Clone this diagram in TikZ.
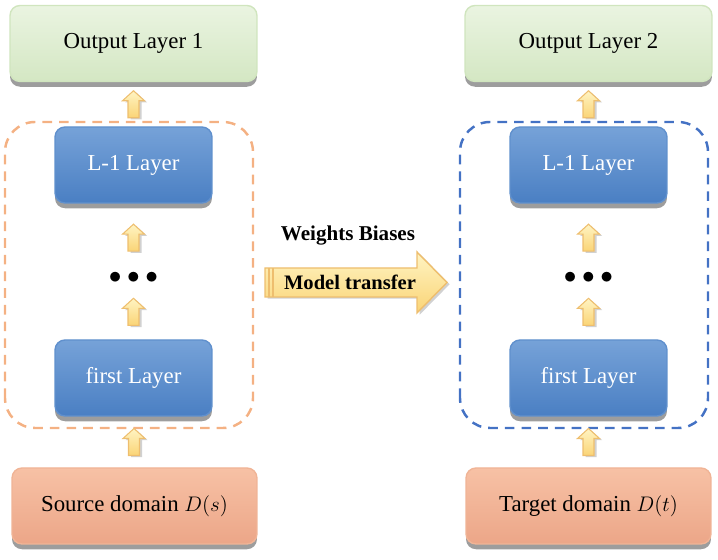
\documentclass[tikz,border=0pt]{standalone}
\usepackage{fontspec}
\setmainfont{Liberation Serif}
\usepackage{amsmath}
\usetikzlibrary{positioning, calc, shadows, arrows.meta}
\definecolor{GreenTop}{RGB}{234,244,225}
\definecolor{GreenBottom}{RGB}{212,231,195}
\definecolor{GreenEdge}{RGB}{208,229,190}
\definecolor{BlueTop}{RGB}{118,162,216}
\definecolor{BlueBottom}{RGB}{74,127,195}
\definecolor{BlueEdge}{RGB}{96,144,205}
\definecolor{OrangeTop}{RGB}{247,193,165}
\definecolor{OrangeBottom}{RGB}{236,166,136}
\definecolor{OrangeEdge}{RGB}{240,180,150}
\definecolor{DashOrange}{RGB}{244,177,131}
\definecolor{DashBlue}{RGB}{68,114,196}
\definecolor{ArrowTop}{RGB}{255,244,195}
\definecolor{ArrowBottom}{RGB}{250,212,118}
\definecolor{ArrowEdge}{RGB}{238,190,110}

\tikzset{
    boxfont/.style={font=\fontsize{13}{15}\selectfont},
    boxshadow/.style={drop shadow={shadow xshift=0pt, shadow yshift=-3pt, opacity=0.55, fill=black!70}},
    outbox/.style={rounded corners=0.2cm, minimum width=4.94cm, minimum height=1.52cm, draw=GreenEdge, top color=GreenTop, bottom color=GreenBottom, boxfont, boxshadow},
    layerbox/.style={rounded corners=0.2cm, minimum width=3.14cm, minimum height=1.52cm, draw=BlueEdge, top color=BlueTop, bottom color=BlueBottom, text=white, boxfont, boxshadow},
    domainbox/.style={rounded corners=0.2cm, minimum width=4.9cm, minimum height=1.52cm, draw=OrangeEdge, top color=OrangeTop, bottom color=OrangeBottom, boxfont, boxshadow},
    groupbox/.style={dash pattern=on 5.5pt off 4pt, line width=1.4pt, rounded corners=0.6cm},
    dotsnode/.style={inner sep=0pt, font=\Large},
    arrowfill/.style={draw=ArrowEdge, line width=0.6pt, top color=ArrowTop, bottom color=ArrowBottom, drop shadow={shadow xshift=1.5pt, shadow yshift=-1pt, opacity=0.3, fill=black!60}},
    uparr/.pic={\draw[arrowfill] (0,13.5) -- (11,3.5) -- (5.5,3.5) -- (5.5,-13.5) -- (-5.5,-13.5) -- (-5.5,3.5) -- (-11,3.5) -- cycle;}
}

\begin{document}
\begin{tikzpicture}[>=Latex, thick, x=0.02cm, y=0.02cm]
    \useasboundingbox (0,0) rectangle (718,560);
    \def\lx{133.5} \def\rx{588.5}
    % Dashed groups
    \draw[groupbox, DashOrange] (5,132) rectangle (253,438);
    \draw[groupbox, DashBlue] (460,132) rectangle (708,438);
    % Source side
    \node[outbox] (outA) at (\lx, 516.5) {Output Layer 1};
    \node[layerbox] (lastA) at (\lx, 395) {L-1 Layer};
    \node[dotsnode] (dotsA) at (\lx, 282) {${\bullet}\mkern4mu{\bullet}\mkern4mu{\bullet}$};
    \node[layerbox] (firstA) at (\lx, 182) {first Layer};
    \node[domainbox] (domA) at (134.5, 54) {Source domain $D(s)$};
    % Target side
    \node[outbox] (outB) at (\rx, 516.5) {Output Layer 2};
    \node[layerbox] (lastB) at (\rx, 395) {L-1 Layer};
    \node[dotsnode] (dotsB) at (\rx, 282) {${\bullet}\mkern4mu{\bullet}\mkern4mu{\bullet}$};
    \node[layerbox] (firstB) at (\rx, 182) {first Layer};
    \node[domainbox] (domB) at (\rx, 54) {Target domain $D(t)$};
    % Small block arrows
    \foreach \s in {A,B} {
        \pic at ($(dom\s.north)!0.5!(first\s.south)$) {uparr};
        \pic at ($(first\s.north)!0.5!(dots\s.south)$) {uparr};
        \pic at ($(dots\s.north)!0.5!(last\s.south)$) {uparr};
        \pic at ($(last\s.north)!0.5!(out\s.south)$) {uparr};
    }
    % Model transfer arrow
    \draw[arrowfill, line width=0.8pt] (265,263) -- (417,263) -- (417,247) -- (447,277.5) -- (417,308) -- (417,292) -- (265,292) -- cycle;
    \draw[ArrowEdge, line width=0.8pt] (269,263) -- (269,292) (273,263) -- (273,292);
    \node[font=\fontsize{11.7}{13}\selectfont\bfseries] (mt) at (350,277.5) {Model transfer};
    \node[font=\fontsize{12}{14}\selectfont\bfseries] (wb) at (348,324) {Weights Biases};
\end{tikzpicture}
\end{document}
